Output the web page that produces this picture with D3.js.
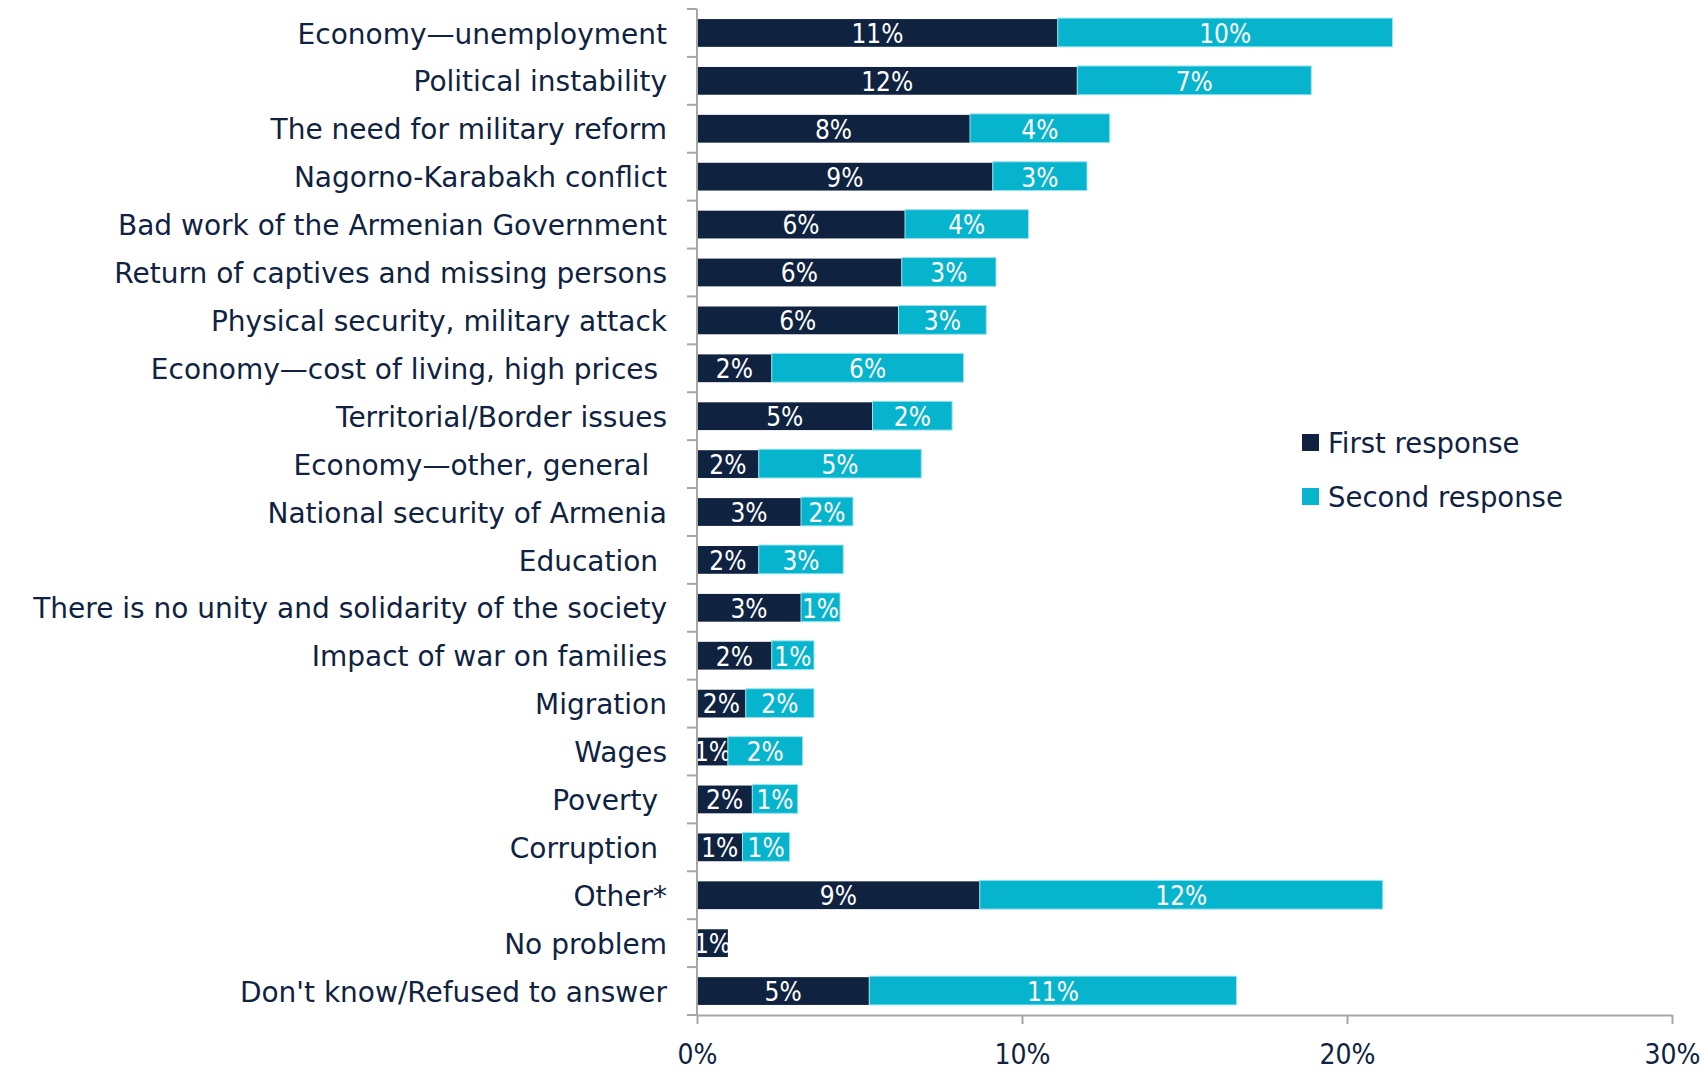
<!DOCTYPE html>
<html><head><meta charset="utf-8">
<script src="https://cdn.jsdelivr.net/npm/d3@7"></script>
<style>
html,body{margin:0;padding:0;background:#fff;}
svg text{white-space:pre;}
</style></head>
<body><svg id="chart" width="1704" height="1073" font-family="DejaVu Sans Condensed"></svg>
<script>
const categories = [
  "Economy\u2014unemployment",
  "Political instability",
  "The need for military reform",
  "Nagorno-Karabakh conflict",
  "Bad work of the Armenian Government",
  "Return of captives and missing persons",
  "Physical security, military attack",
  "Economy\u2014cost of living, high prices ",
  "Territorial/Border issues",
  "Economy\u2014other, general  ",
  "National security of Armenia",
  "Education ",
  "There is no unity and solidarity of the society",
  "Impact of war on families",
  "Migration",
  "Wages",
  "Poverty ",
  "Corruption ",
  "Other*",
  "No problem",
  "Don't know/Refused to answer"
];
const firstResponse  = [11.1, 11.7, 8.4, 9.1, 6.4, 6.3, 6.2, 2.3, 5.4, 1.9, 3.2, 1.9, 3.2, 2.3, 1.5, 0.95, 1.7, 1.4, 8.7, 0.95, 5.3];
const secondResponse = [10.3, 7.2, 4.3, 2.9, 3.8, 2.9, 2.7, 5.9, 2.45, 5.0, 1.6, 2.6, 1.2, 1.3, 2.1, 2.3, 1.4, 1.45, 12.4, 0, 11.3];
const seriesNames = ["First response", "Second response"];
const xTicks = [0, 10, 20, 30];

const colors = ["#0f2341", "#07b4cd"];
const textColor = "#0f2341";
const axisColor = "#a6a6a6";

const svg = d3.select("#chart");
const x = d3.scaleLinear().domain([0, 30]).range([697, 1672]);
const y = d3.scaleBand().domain(categories).range([9, 1015]).paddingInner(0.42).paddingOuter(0.21);

const rows = categories.map((c, i) => ({cat: c, a: firstResponse[i], b: secondResponse[i]}));

// bars
const g = svg.append("g");
rows.forEach(r => {
  const segs = [
    {x0: 0, x1: r.a, v: r.a, c: colors[0]},
    {x0: r.a, x1: r.a + r.b, v: r.b, c: colors[1]}
  ].filter(s => s.v > 0);
  segs.forEach((s, k) => {
    g.append("rect")
      .attr("x", x(s.x0)).attr("y", y(r.cat) + (k === 1 ? -1 : 0))
      .attr("width", x(s.x1) - x(s.x0)).attr("height", y.bandwidth() + (k === 1 ? 1 : 0))
      .attr("fill", s.c)
      .attr("stroke", k === 1 ? "#9be3ee" : "none").attr("stroke-width", k === 1 ? 1 : 0);
    g.append("text")
      .attr("x", (x(s.x0) + x(s.x1)) / 2)
      .attr("y", y(r.cat) + y.bandwidth() / 2)
      .attr("dy", "0.38em")
      .attr("text-anchor", "middle")
      .attr("fill", "#fff")
      .style("font-family", "DejaVu Sans Condensed")
      .attr("font-size", 26)
      .text(Math.round(s.v) + "%");
  });
});

// y axis line + ticks at band boundaries
const step = y.step();
const yTop = y.range()[0], yBot = y.range()[1];
svg.append("line").attr("x1", x(0)).attr("x2", x(0)).attr("y1", yTop).attr("y2", yBot)
  .attr("stroke", axisColor).attr("stroke-width", 2);
d3.range(categories.length + 1).forEach(k => {
  const yy = yTop + k * step;
  svg.append("line").attr("x1", x(0) - 10).attr("x2", x(0)).attr("y1", yy).attr("y2", yy)
    .attr("stroke", axisColor).attr("stroke-width", 2);
});

// category labels
svg.append("g").selectAll("text").data(categories).join("text")
  .attr("x", 667)
  .attr("y", d => y(d) + y.bandwidth() / 2)
  .attr("dy", "0.38em")
  .attr("text-anchor", "end")
  .attr("fill", textColor)
  .style("font-family", "DejaVu Sans")
  .style("font-size", "28px")
  .text(d => d);

// x axis
const xAxis = svg.append("g").attr("transform", `translate(0,${yBot})`)
  .call(d3.axisBottom(x).tickValues(xTicks).tickFormat(d => d + "%").tickSize(9).tickSizeOuter(0).tickPadding(20));
xAxis.select(".domain").attr("stroke", axisColor).attr("stroke-width", 2);
xAxis.selectAll(".tick line").attr("stroke", axisColor).attr("stroke-width", 2);
xAxis.selectAll(".tick text").attr("fill", textColor)
  .style("font-family", "DejaVu Sans Condensed").style("font-size", "28px");

// legend
const leg = svg.append("g");
seriesNames.forEach((n, i) => {
  const ly = 443 + i * 54;
  leg.append("rect").attr("x", 1302).attr("y", ly - 9).attr("width", 17).attr("height", 17).attr("fill", colors[i]);
  leg.append("text").attr("x", 1328).attr("y", ly).attr("dy", "0.36em")
    .attr("fill", textColor)
    .style("font-family", "DejaVu Sans").style("font-size", "27.5px").text(n);
});
</script></body></html>
